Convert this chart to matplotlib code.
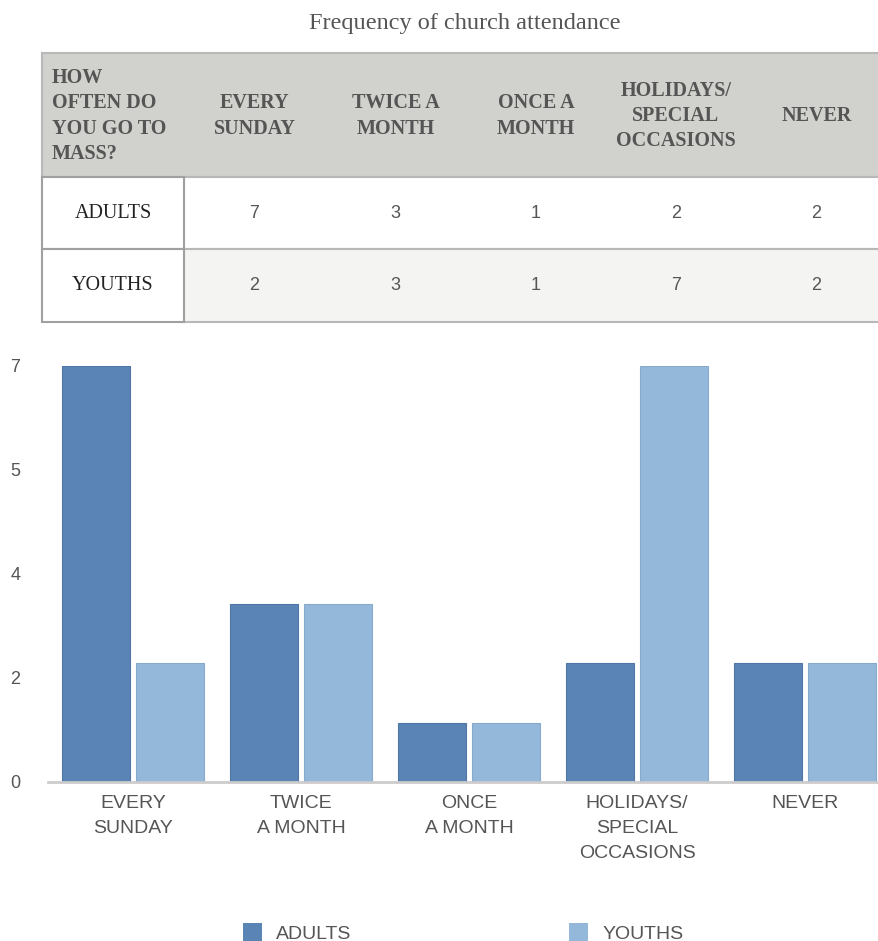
import matplotlib.pyplot as plt
from matplotlib.patches import Rectangle

# data
categories = ["EVERY\nSUNDAY", "TWICE\nA MONTH", "ONCE\nA MONTH",
              "HOLIDAYS/\nSPECIAL\nOCCASIONS", "NEVER"]
table_headers = ["EVERY\nSUNDAY", "TWICE A\nMONTH", "ONCE A\nMONTH",
                 "HOLIDAYS/\nSPECIAL\nOCCASIONS", "NEVER"]
groups = ["ADULTS", "YOUTHS"]
adults = [7, 3, 1, 2, 2]
youths = [2, 3, 1, 7, 2]
ytick_pos = [0, 1.75, 3.5, 5.25, 7]
ytick_labels = ["0", "2", "4", "5", "7"]

W, H = 879, 941
c_adult = "#5b84b6"
c_youth = "#94b8da"
serif = ["Liberation Serif", "DejaVu Serif"]
sans = ["Liberation Sans", "DejaVu Sans"]

fig = plt.figure(figsize=(W / 100, H / 100), dpi=100)

# ---- table drawn in pixel coordinates ----
tab = fig.add_axes([0, 0, 1, 1])
tab.set_xlim(0, W)
tab.set_ylim(H, 0)
tab.axis("off")

tab.text(465, 23, "Frequency of church attendance", ha="center", va="center",
         fontsize=17.5, family=serif, color="#555555")

col_x = [42, 184, 325, 466, 606, 746, 887]
row_y = [53, 177, 249, 322]
border = "#b8b8b8"

# header row
tab.add_patch(Rectangle((col_x[0], row_y[0]), col_x[-1] - col_x[0], row_y[1] - row_y[0],
                        facecolor="#d1d1cd", edgecolor=border, lw=1.5))
tab.text(col_x[0] + 10, (row_y[0] + row_y[1]) / 2 + 1, "HOW\nOFTEN DO\nYOU GO TO\nMASS?",
         ha="left", va="center", fontsize=14.5, family=serif, weight="bold",
         color="#555555", linespacing=1.35)
for i, h in enumerate(table_headers):
    cx = (col_x[i + 1] + col_x[i + 2]) / 2
    tab.text(cx, (row_y[0] + row_y[1]) / 2 + 1, h, ha="center", va="center",
             fontsize=14.5, family=serif, weight="bold", color="#555555",
             linespacing=1.35)

# body rows
for r, (name, vals) in enumerate(zip(groups, [adults, youths])):
    y0, y1 = row_y[r + 1], row_y[r + 2]
    bg = "white" if r == 0 else "#f4f4f2"
    tab.add_patch(Rectangle((col_x[1], y0), col_x[-1] - col_x[1], y1 - y0,
                            facecolor=bg, edgecolor=border, lw=1.5))
    tab.add_patch(Rectangle((col_x[0], y0), col_x[1] - col_x[0], y1 - y0,
                            facecolor="white", edgecolor="#a0a0a0", lw=1.5))
    tab.text((col_x[0] + col_x[1]) / 2, (y0 + y1) / 2, name, ha="center", va="center",
             fontsize=14.5, family=serif, color="#222222")
    for i, v in enumerate(vals):
        cx = (col_x[i + 1] + col_x[i + 2]) / 2
        tab.text(cx, (y0 + y1) / 2, str(v), ha="center", va="center",
                 fontsize=13, family=sans, color="#555555")

# ---- bar chart ----
left, right, bottom, top = 48, 879, 782, 366
ax = fig.add_axes([left / W, (H - bottom) / H, (right - left) / W, (bottom - top) / H])
x = list(range(len(categories)))
bw = 68 / 168
off = 37 / 168
ax.bar([i - off for i in x], adults, width=bw, color=c_adult, edgecolor="#4f76a6", lw=0.8)
ax.bar([i + off for i in x], youths, width=bw, color=c_youth, edgecolor="#86a9cc", lw=0.8)
ax.set_xlim(-(133 - left) / 168, (right - 133) / 168)
ax.set_ylim(0, 7)
for s in ax.spines.values():
    s.set_visible(False)
ax.axhline(0, color="#cccccc", lw=2, clip_on=False)

ax.set_yticks(ytick_pos, ytick_labels)
ax.set_xticks(x, categories)
ax.tick_params(length=0)
ax.tick_params(axis="y", pad=20, labelsize=13, labelcolor="#555555")
ax.tick_params(axis="x", pad=9, labelsize=14, labelcolor="#555555")
for lbl in ax.get_xticklabels() + ax.get_yticklabels():
    lbl.set_family(sans)
for lbl in ax.get_xticklabels():
    lbl.set_linespacing(1.62)

handles = [Rectangle((0, 0), 1, 1, facecolor=c_adult),
           Rectangle((0, 0), 1, 1, facecolor=c_youth)]
leg = fig.legend(handles, groups, loc="center", bbox_to_anchor=(463 / W, 8 / H),
                 ncol=2, frameon=False, handlelength=1.0, handleheight=1.0,
                 handletextpad=0.7, columnspacing=11.2,
                 prop={"family": sans, "size": 14})
for t in leg.get_texts():
    t.set_color("#555555")

fig.savefig("out.png", dpi=100)
